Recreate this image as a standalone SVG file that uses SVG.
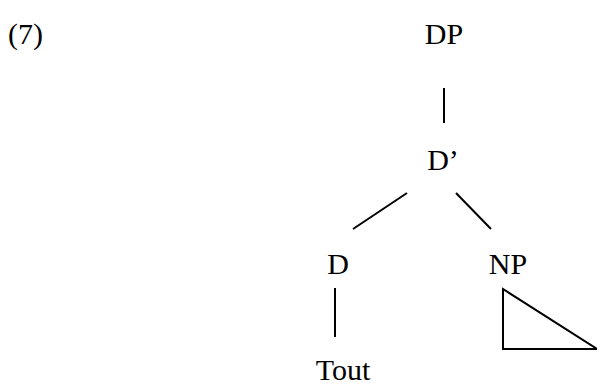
<svg xmlns="http://www.w3.org/2000/svg" width="597" height="389" viewBox="0 0 597 389">
<style>
text{font-family:"Liberation Serif","Times New Roman",serif;font-size:30px;fill:#000}
.l{stroke:#000;stroke-width:2;fill:none}
</style>
<rect width="597" height="389" fill="#fff"/>
<text x="8" y="44">(7)</text>
<g id="DP"><text x="444" y="44" text-anchor="middle">DP</text></g>
<g id="Dbar"><text x="443" y="170" text-anchor="middle">D’</text></g>
<g id="D"><text x="338" y="274" text-anchor="middle">D</text></g>
<g id="NP"><text x="508" y="274" text-anchor="middle">NP</text></g>
<g id="Tout"><text x="343" y="380" text-anchor="middle">Tout</text></g>
<g id="connectors">
<line class="l" x1="444" y1="88" x2="444" y2="123"/>
<line class="l" x1="353" y1="229" x2="407" y2="193"/>
<line class="l" x1="456" y1="193" x2="491" y2="229"/>
<line class="l" x1="335" y1="288" x2="335" y2="337"/>
<polygon class="l" points="503,289 503,349 597,349"/>
</g>
</svg>
